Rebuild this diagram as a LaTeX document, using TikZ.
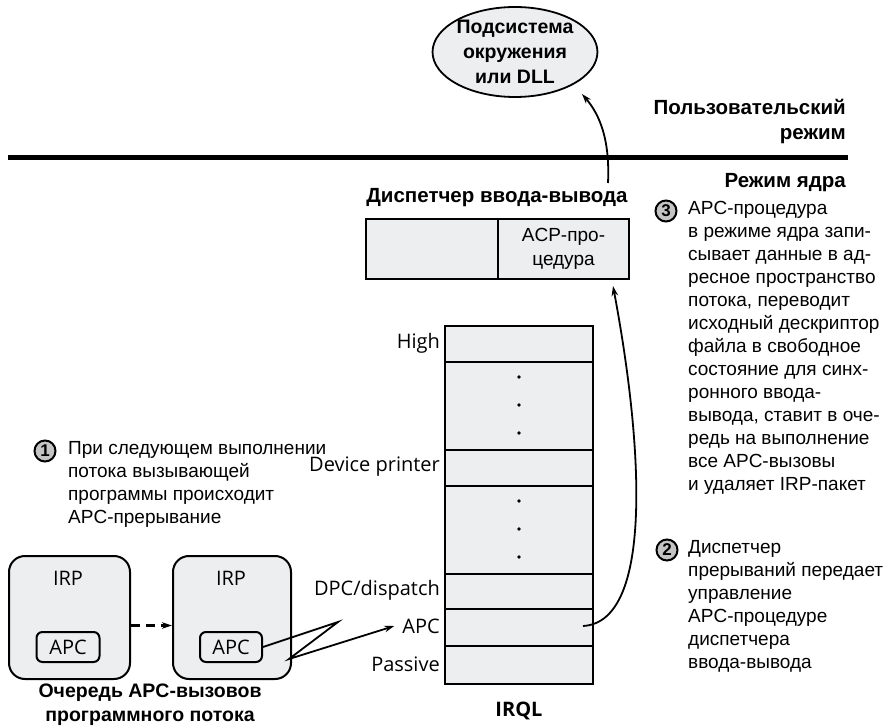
\documentclass[tikz,border=0pt]{standalone}
\usepackage{fontspec}
\setmainfont{Liberation Sans}
\newfontfamily\segoe{Open Sans}
\usetikzlibrary{arrows.meta, positioning, shapes.geometric}
\definecolor{boxgray}{HTML}{EDEEF0}
\definecolor{numgray}{HTML}{C4C4C4}

\begin{document}
\begin{tikzpicture}[x=1pt, y=-1pt, >={Stealth[length=10pt, width=6.5pt]}]
\tikzstyle{cell}=[draw, line width=2pt, fill=boxgray, inner sep=0pt];
\tikzstyle{lbl}=[font=\segoe\fontsize{20}{24}\selectfont, inner sep=2pt];
\tikzstyle{note}=[font=\fontsize{19}{23}\selectfont, align=left, inner sep=0pt];
\tikzstyle{head}=[font=\bfseries\fontsize{20.5}{25}\selectfont, inner sep=0pt];
\tikzstyle{num}=[circle, draw, line width=2pt, fill=numgray, inner sep=0pt, minimum size=21pt, font=\bfseries\fontsize{17}{17}\selectfont];
\tikzstyle{conn}=[line width=1.8pt];
\useasboundingbox (0,0) rectangle (892,727);

% user / kernel mode
\node[ellipse, draw, line width=1.8pt, fill=boxgray, minimum width=158, minimum height=90, align=center, head, font=\bfseries\fontsize{19.5}{25}\selectfont] (env) at (515,52) {Подсистема\\окружения\\или DLL};
\node[head, align=right, anchor=east] (user) at (846,122) {Пользовательский\\режим};
\draw[line width=5pt] (8,158) -- (848,158);
\node[head, anchor=east] (kernel) at (846,183) {Режим ядра};

% I/O manager
\node[head] (iomgr) at (497,198) {Диспетчер ввода-вывода};
\node[cell, minimum width=132, minimum height=60, anchor=north west] (iol) at (365,218) {};
\node[cell, minimum width=131, minimum height=60, anchor=north west, align=center, font=\fontsize{19}{24}\selectfont] (iop) at (497,218) {ACP-про-\\цедура};

% IRQL levels
\node[cell, minimum width=148, minimum height=36, anchor=north] (high) at (519,325) {};
\node[cell, minimum width=148, minimum height=88, anchor=north] (dots1) at (519,361) {};
\node[cell, minimum width=148, minimum height=36, anchor=north] (dev) at (519,449) {};
\node[cell, minimum width=148, minimum height=88, anchor=north] (dots2) at (519,485) {};
\node[cell, minimum width=148, minimum height=35, anchor=north] (dpc) at (519,573) {};
\node[cell, minimum width=148, minimum height=37, anchor=north] (apc) at (519,608) {};
\node[cell, minimum width=148, minimum height=38, anchor=north] (pass) at (519,645) {};
\foreach \y in {377,405,433,501,529,557}
  \fill (519,\y) circle (1.9);
\node[lbl, anchor=east] (lhigh) at (442,343) {High};
\node[lbl, anchor=east] (ldev) at (442,467) {Device printer};
\node[lbl, anchor=east] (ldpc) at (442,590) {DPC/dispatch};
\node[lbl, anchor=east] (lapc) at (442,626) {APC};
\node[lbl, anchor=east] (lpass) at (442,664) {Passive};
\node[lbl, font=\segoe\bfseries\fontsize{20}{24}\selectfont] (irql) at (519,711) {IRQL};

% APC queue
\node[cell, rounded corners=16pt, minimum width=121, minimum height=123, anchor=north west] (irp1) at (8,555) {};
\node[cell, rounded corners=16pt, minimum width=118, minimum height=123, anchor=north west] (irp2) at (172,555) {};
\node[lbl] (irp1t) at (68,578) {IRP};
\node[lbl] (irp2t) at (231,578) {IRP};
\node[cell, rounded corners=6pt, minimum width=63, minimum height=30, lbl, fill=boxgray] (apc1) at (68,647) {APC};
\node[cell, rounded corners=6pt, minimum width=62, minimum height=30, lbl, fill=boxgray] (apc2) at (231,647) {APC};
\node[head, align=center, font=\bfseries\fontsize{19.5}{24}\selectfont] (queue) at (150,705) {Очередь APC-вызовов\\программного потока};

% steps
\node[num] (s1) at (45,451) {1};
\node[note, anchor=north west] (t1) at (68,441) {При следующем выполнении\\потока вызывающей\\программы происходит\\APC-прерывание};
\node[num] (s2) at (667,550) {2};
\node[note, anchor=north west] (t2) at (688,540) {Диспетчер\\прерываний передает\\управление\\APC-процедуре\\диспетчера\\ввода-вывода};
\node[num] (s3) at (666,211) {3};
\node[note, anchor=north west] (t3) at (688,201) {APC-процедура\\в режиме ядра запи-\\сывает данные в ад-\\ресное пространство\\потока, переводит\\исходный дескриптор\\файла в свободное\\состояние для синх-\\ронного ввода-\\вывода, ставит в оче-\\редь на выполнение\\все APC-вызовы\\и удаляет IRP-пакет};

% connectors
\coordinate (zig) at (338,622);
\coordinate (corner) at (289,659);
\coordinate (apcfrom) at (583,626);
\coordinate (procin) at (613,286);
\coordinate (ioout) at (608,183);
\coordinate (envin) at (582,94);
\draw[conn, line width=2.2pt, dash pattern=on 9pt off 6pt, ->] ([yshift=-8]irp1.east) -- ([yshift=-8]irp2.west);
\draw[conn, ->] (apc2.east) -- (zig) -- (corner) -- ([xshift=-6]lapc.west);
\draw[conn, ->] (apcfrom) .. controls (655,622) and (642,440) .. (procin);
\draw[conn, ->] (ioout) .. controls (610,140) and (600,115) .. (envin);
\end{tikzpicture}
\end{document}
